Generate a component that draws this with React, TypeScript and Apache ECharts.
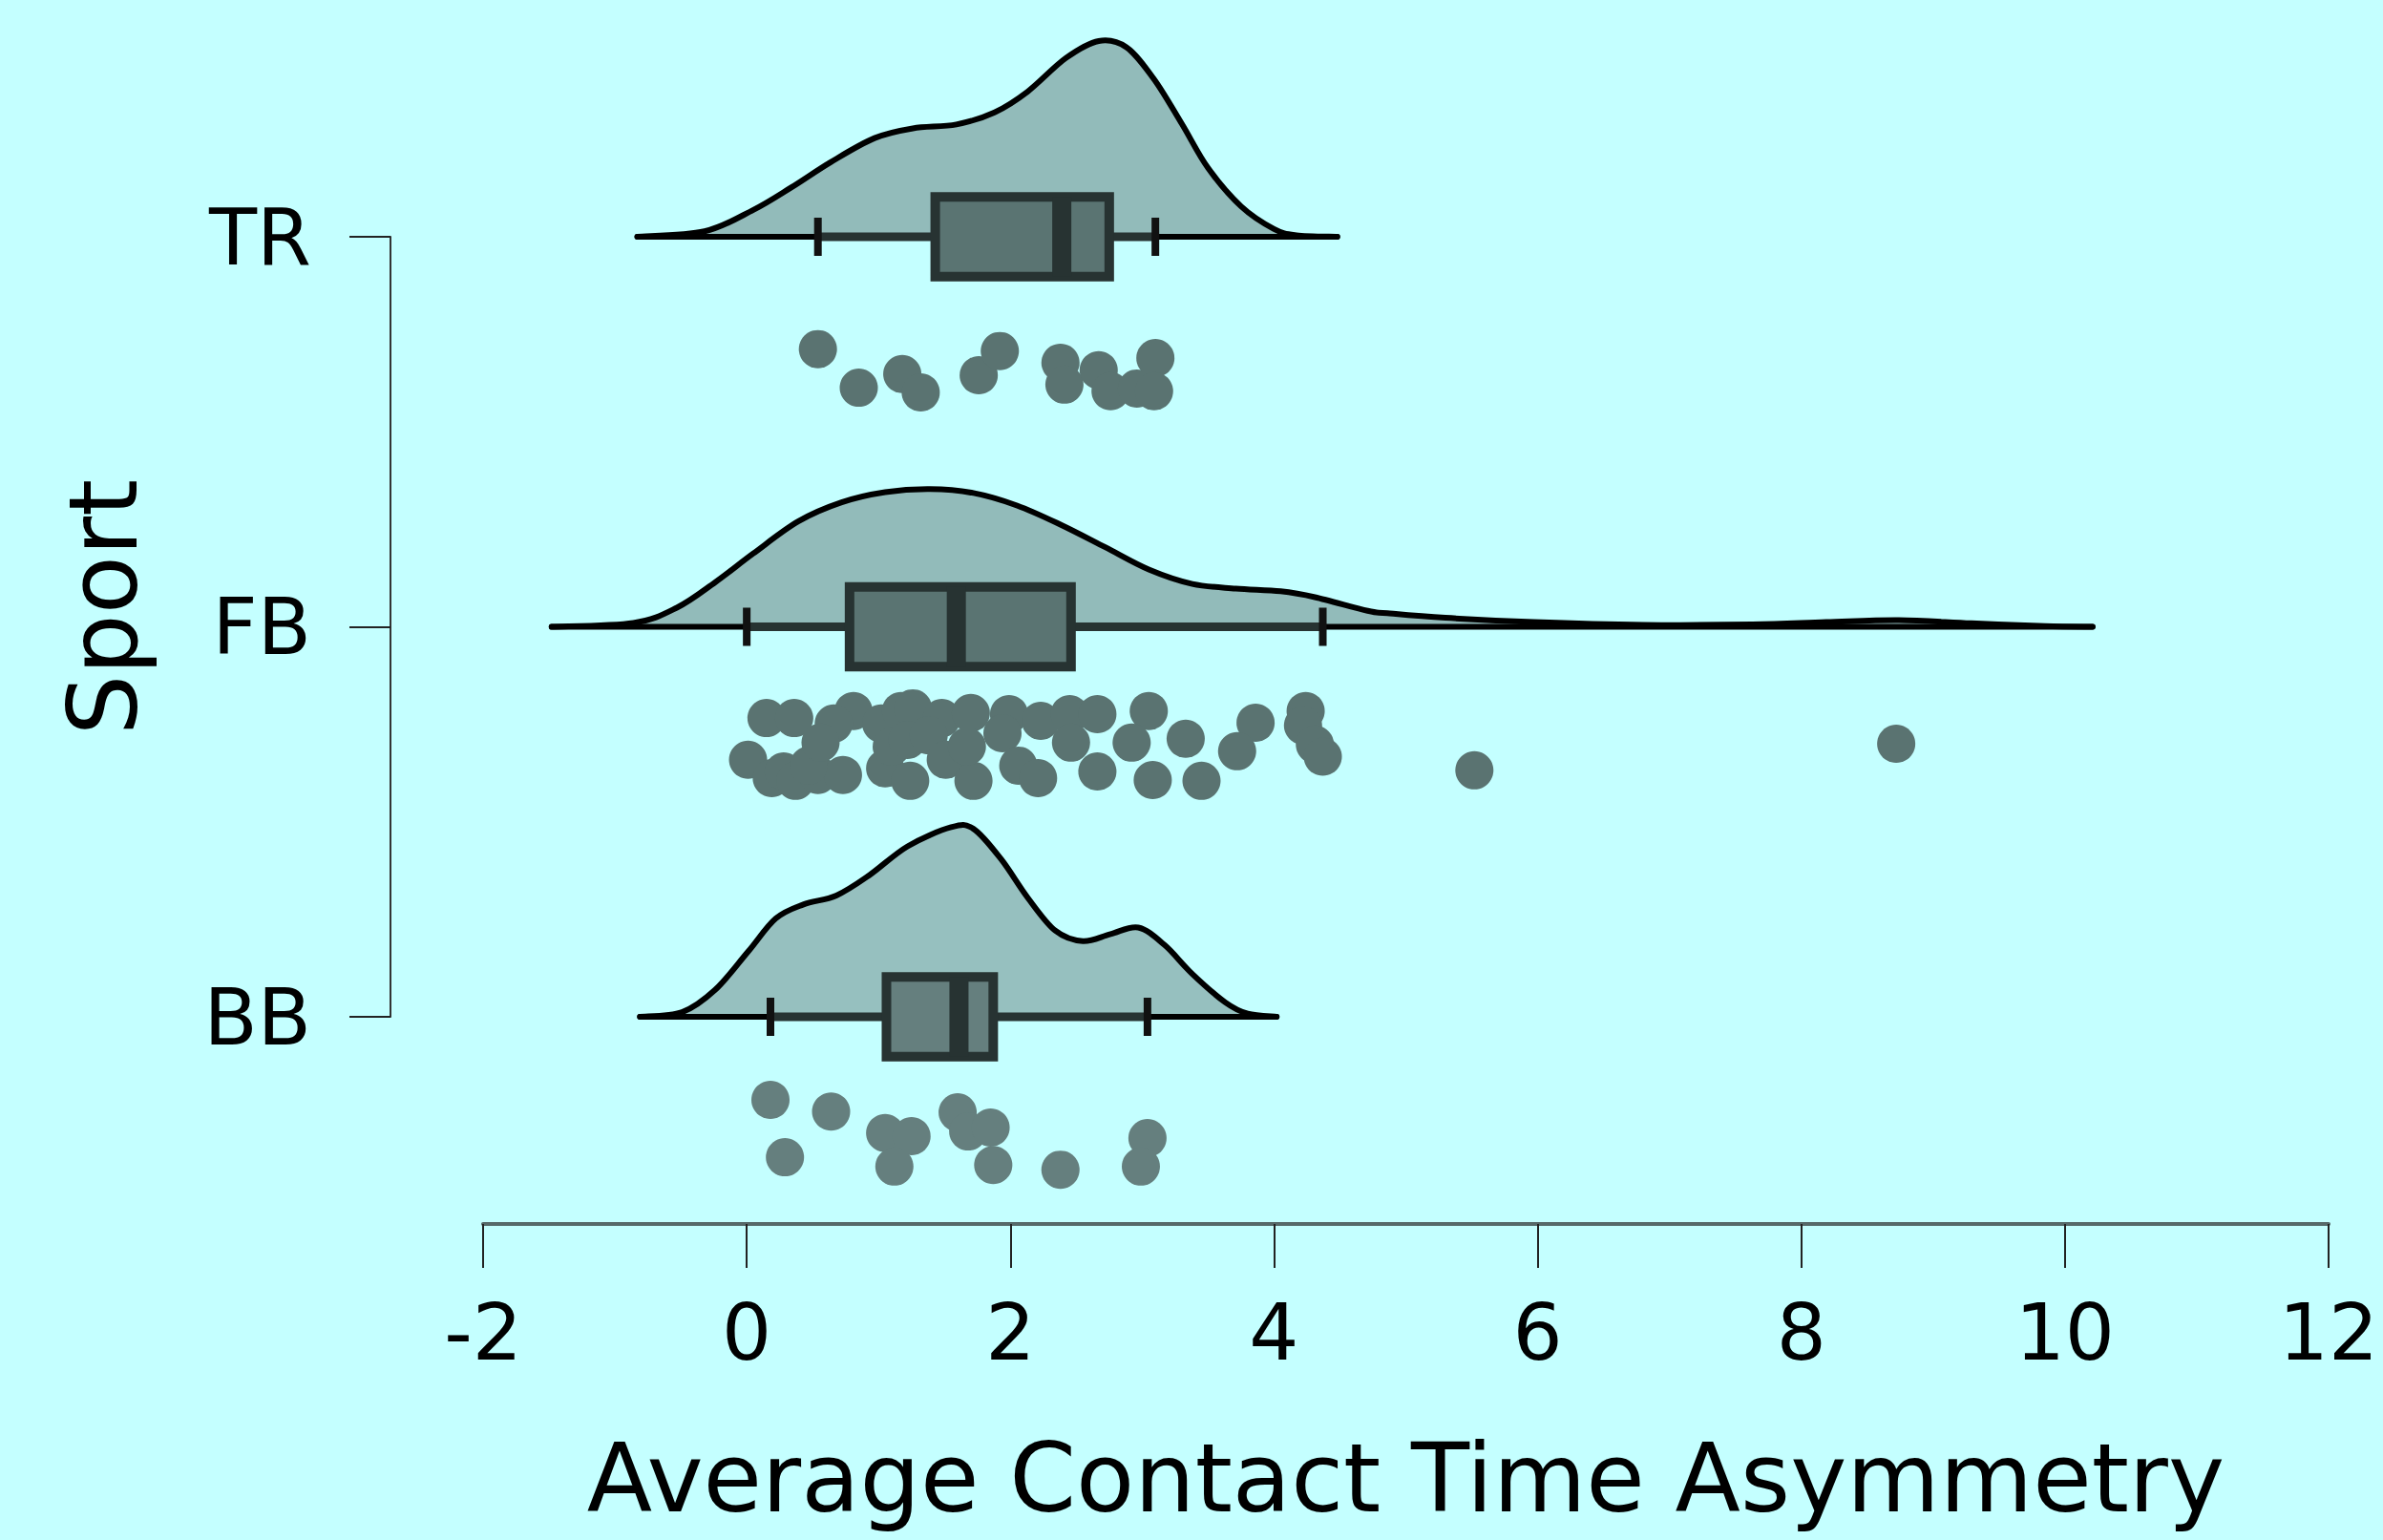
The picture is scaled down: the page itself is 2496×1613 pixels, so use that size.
import React, { useEffect, useRef } from "react";
import * as echarts from "echarts";

// ---------- data ----------
const categories = ["BB", "FB", "TR"]; // y levels 1, 2, 3
const xTicks = [-2, 0, 2, 4, 6, 8, 10, 12];

// density outlines: [x, height in y-axis units]
const trDensity = [
  [-0.83, 0], [-0.32, 0.014], [0.05, 0.069], [0.34, 0.127], [0.64, 0.192], [0.97, 0.253],
  [1.26, 0.278], [1.59, 0.288], [1.88, 0.319], [2.13, 0.372], [2.42, 0.458], [2.67, 0.502],
  [2.88, 0.486], [3.09, 0.404], [3.3, 0.29], [3.5, 0.176], [3.75, 0.078], [4.0, 0.02],
  [4.17, 0.004], [4.48, 0],
];
const fbDensity = [
  [-1.48, 0], [-0.86, 0.01], [-0.53, 0.049], [-0.24, 0.114], [0.05, 0.188], [0.39, 0.27],
  [0.72, 0.319], [1.05, 0.345], [1.39, 0.353], [1.72, 0.343], [2.05, 0.311], [2.38, 0.262],
  [2.72, 0.204], [3.05, 0.147], [3.38, 0.11], [3.71, 0.098], [4.05, 0.091], [4.31, 0.076],
  [4.71, 0.041], [4.86, 0.035], [5.3, 0.023], [5.97, 0.012], [6.8, 0.005], [7.63, 0.006],
  [8.19, 0.012], [8.74, 0.017], [9.29, 0.009], [9.85, 0.002], [10.21, 0],
];
const bbDensity = [
  [-0.81, 0], [-0.49, 0.012], [-0.24, 0.069], [0.01, 0.167], [0.22, 0.252], [0.43, 0.288],
  [0.68, 0.311], [0.93, 0.363], [1.22, 0.437], [1.55, 0.486], [1.72, 0.482], [1.93, 0.404],
  [2.13, 0.306], [2.34, 0.221], [2.55, 0.194], [2.76, 0.212], [2.97, 0.229], [3.17, 0.184],
  [3.38, 0.11], [3.63, 0.037], [3.8, 0.008], [4.02, 0],
];

// box stats: [lower whisker, Q1, median, Q3, upper whisker]
const trBox = [0.54, 1.43, 2.39, 2.75, 3.1];
const fbBox = [0.0, 0.78, 1.59, 2.46, 4.37];
const bbBox = [0.18, 1.06, 1.61, 1.87, 3.04];

// raw points: [value, downward jitter in y-axis units]
const trPoints = [
  [0.54, 0.288], [0.85, 0.387], [1.18, 0.352], [1.32, 0.399], [1.76, 0.355], [1.92, 0.293],
  [2.38, 0.323], [2.41, 0.379], [2.67, 0.342], [2.76, 0.396], [2.96, 0.389], [3.1, 0.311],
  [3.09, 0.396],
];
const fbPoints = [
  [0.15, 0.234], [0.36, 0.234], [0.01, 0.341], [0.19, 0.388], [0.28, 0.371], [0.37, 0.395],
  [0.54, 0.38], [0.73, 0.38], [0.47, 0.356], [0.81, 0.216], [0.66, 0.248], [0.56, 0.297],
  [1.02, 0.248], [1.05, 0.363], [1.1, 0.307], [1.17, 0.216], [1.26, 0.209], [1.48, 0.234],
  [1.7, 0.221], [1.22, 0.29], [1.24, 0.395], [1.38, 0.278], [1.51, 0.341], [1.72, 0.395],
  [1.67, 0.307], [1.99, 0.224], [1.94, 0.273], [2.06, 0.356], [2.21, 0.388], [2.23, 0.241],
  [2.45, 0.224], [2.46, 0.297], [2.66, 0.224], [2.66, 0.371], [3.05, 0.216], [2.92, 0.297],
  [3.08, 0.393], [3.33, 0.287], [3.45, 0.395], [3.86, 0.246], [3.72, 0.319], [4.24, 0.216],
  [4.22, 0.253], [4.31, 0.302], [4.37, 0.333], [5.52, 0.368], [8.72, 0.3],
];
const bbPoints = [
  [0.18, 0.213], [0.64, 0.243], [0.29, 0.36], [1.05, 0.298], [1.25, 0.306], [1.12, 0.384],
  [1.6, 0.245], [1.68, 0.294], [1.85, 0.284], [1.87, 0.38], [2.38, 0.392], [3.04, 0.311],
  [2.99, 0.384],
];

// ---------- styles ----------
const BG = "#c4ffff";
const DARK = "#273332";
const BOX_HALF = 0.102;
const CAP_HALF = 0.049;
const FONT = "DejaVu Sans";

// smooth curve (Catmull-Rom rendered as cubic Bezier) through screen points
function curvePath(p: number[][], baseY: number): string {
  let d = `M${p[0][0]},${p[0][1]}`;
  for (let i = 0; i < p.length - 1; i++) {
    const p0 = p[i - 1] || p[i];
    const p1 = p[i];
    const p2 = p[i + 1];
    const p3 = p[i + 2] || p[i + 1];
    const c1x = p1[0] + (p2[0] - p0[0]) / 6;
    const c1y = Math.min(baseY, p1[1] + (p2[1] - p0[1]) / 6);
    const c2x = p2[0] - (p3[0] - p1[0]) / 6;
    const c2y = Math.min(baseY, p2[1] - (p3[1] - p1[1]) / 6);
    d += ` C${c1x},${c1y} ${c2x},${c2y} ${p2[0]},${p2[1]}`;
  }
  return d;
}

function raincloud(level: number, dens: number[][], box: number[], fill: string, boxFill: string) {
  return (params: any, api: any) => {
    const pts = dens.map(([x, h]) => api.coord([x, level + h]));
    const b0 = api.coord([dens[0][0], level]);
    const b1 = api.coord([dens[dens.length - 1][0], level]);
    const curve = curvePath(pts, b0[1]);
    const [wl, q1, md, q3, wh] = box;
    const pWl = api.coord([wl, level]);
    const pQ1 = api.coord([q1, level]);
    const pMd = api.coord([md, level]);
    const pQ3 = api.coord([q3, level]);
    const pWh = api.coord([wh, level]);
    const boxTop = api.coord([q1, level + BOX_HALF])[1];
    const boxBot = api.coord([q1, level - BOX_HALF])[1];
    const capTop = api.coord([wl, level + CAP_HALF])[1];
    const capBot = api.coord([wl, level - CAP_HALF])[1];
    return {
      type: "group",
      children: [
        { type: "path", shape: { pathData: curve + ` L${b0[0]},${b0[1]} Z` }, style: { fill, stroke: "none" } },
        { type: "path", shape: { pathData: curve }, style: { stroke: "#000", lineWidth: 6, fill: "none", lineJoin: "round", lineCap: "round" } },
        { type: "line", shape: { x1: b0[0], y1: b0[1], x2: b1[0], y2: b1[1] }, style: { stroke: "#000", lineWidth: 6, lineCap: "round" } },
        { type: "line", shape: { x1: pWl[0], y1: pWl[1], x2: pQ1[0], y2: pQ1[1] }, style: { stroke: DARK, lineWidth: 9 } },
        { type: "line", shape: { x1: pQ3[0], y1: pQ3[1], x2: pWh[0], y2: pWh[1] }, style: { stroke: DARK, lineWidth: 9 } },
        { type: "line", shape: { x1: pWl[0], y1: capTop, x2: pWl[0], y2: capBot }, style: { stroke: "#111", lineWidth: 8 } },
        { type: "line", shape: { x1: pWh[0], y1: capTop, x2: pWh[0], y2: capBot }, style: { stroke: "#111", lineWidth: 8 } },
        { type: "rect", shape: { x: pQ1[0], y: boxTop, width: pQ3[0] - pQ1[0], height: boxBot - boxTop }, style: { fill: boxFill, stroke: DARK, lineWidth: 10 } },
        { type: "line", shape: { x1: pMd[0], y1: boxTop, x2: pMd[0], y2: boxBot }, style: { stroke: DARK, lineWidth: 20 } },
      ],
    };
  };
}

export default function App() {
  const ref = useRef<HTMLDivElement>(null);
  useEffect(() => {
    if (!ref.current) return;
    const chart = echarts.init(ref.current, null, { renderer: "svg" });
    const groupsDef = [
      { level: 1, dens: bbDensity, box: bbBox, pts: bbPoints, fill: "#96c0bf", boxFill: "#657f7e", dot: "#657f7e" },
      { level: 2, dens: fbDensity, box: fbBox, pts: fbPoints, fill: "#92bbba", boxFill: "#5a7472", dot: "#5a7371" },
      { level: 3, dens: trDensity, box: trBox, pts: trPoints, fill: "#92bbba", boxFill: "#5a7472", dot: "#5a7371" },
    ];
    const series: any[] = [];
    groupsDef.forEach((g) => {
      series.push({
        type: "custom",
        clip: false,
        silent: true,
        data: [[g.box[2], g.level]],
        renderItem: raincloud(g.level, g.dens, g.box, g.fill, g.boxFill),
        z: 2,
      });
      series.push({
        type: "scatter",
        clip: false,
        symbol: "circle",
        symbolSize: 40,
        itemStyle: { color: g.dot, opacity: 1 },
        data: g.pts.map(([x, j]) => [x, g.level - j]),
        z: 3,
      });
    });
    chart.setOption({
      animation: false,
      backgroundColor: BG,
      grid: { left: 506, right: 57, top: 248, bottom: 548, containLabel: false, outerBoundsMode: "none" },
      xAxis: {
        type: "value",
        min: xTicks[0],
        max: xTicks[xTicks.length - 1],
        interval: 2,
        offset: 217,
        axisLine: { show: true, onZero: false, lineStyle: { color: "#566a6a", width: 4 } },
        axisTick: { show: true, length: 46, lineStyle: { color: "#222", width: 2 } },
        axisLabel: { fontSize: 82, fontFamily: FONT, color: "#000", margin: 72 },
        splitLine: { show: false },
        name: "Average Contact Time Asymmetry",
        nameLocation: "middle",
        nameGap: 216,
        nameTextStyle: { fontSize: 100, fontFamily: FONT, color: "#000" },
      },
      yAxis: {
        type: "value",
        min: 1,
        max: 3,
        interval: 1,
        offset: 97,
        axisLine: { show: true, onZero: false, lineStyle: { color: "#333", width: 2 } },
        axisTick: { show: true, length: 43, lineStyle: { color: "#222", width: 2 } },
        axisLabel: {
          fontSize: 82,
          fontFamily: FONT,
          color: "#000",
          margin: 83,
          formatter: (v: number) => categories[Math.round(v) - 1] ?? "",
        },
        splitLine: { show: false },
      },
      graphic: [
        {
          type: "text",
          x: 108,
          y: 636,
          rotation: Math.PI / 2,
          style: { text: "Sport", fontSize: 100, fontFamily: FONT, fill: "#000", align: "center", verticalAlign: "middle" },
        },
      ],
      series,
    });
    return () => chart.dispose();
  }, []);
  return (
    <div
      ref={ref}
      style={{ position: "absolute", left: 0, top: 0, width: 2496, height: 1613, background: BG }}
    />
  );
}
